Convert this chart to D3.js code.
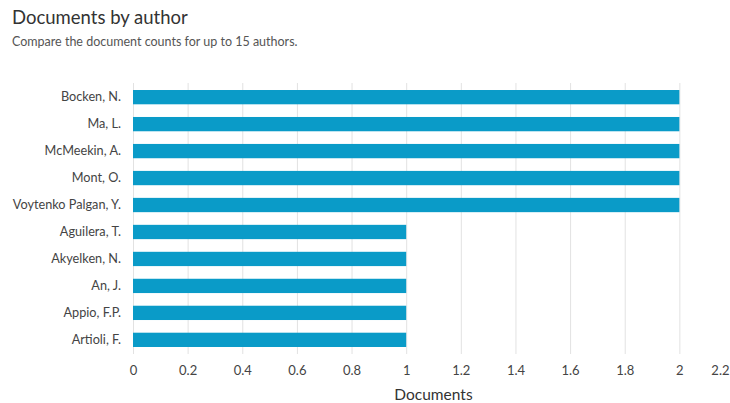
<!DOCTYPE html>
<html>
<head>
<meta charset="utf-8">
<script src="https://cdn.jsdelivr.net/npm/d3@7"></script>
<style>
  body { margin: 0; background: #fff; font-family: Lato, "Open Sans", sans-serif; }
  .chart { width: 730px; height: 403px; overflow: hidden; }
</style>
</head>
<body>
<div class="chart"></div>
<script>
const authors = ["Bocken, N.", "Ma, L.", "McMeekin, A.", "Mont, O.", "Voytenko Palgan, Y.",
  "Aguilera, T.", "Akyelken, N.", "An, J.", "Appio, F.P.", "Artioli, F."];
const documents = [2, 2, 2, 2, 2, 1, 1, 1, 1, 1];
const tickValues = [0, 0.2, 0.4, 0.6, 0.8, 1, 1.2, 1.4, 1.6, 1.8, 2, 2.2];

const width = 730, height = 403,
    margin = ({ top: 83, right: -4, bottom: 49, left: 133 })

const data = authors.map((a, i) => ({ author: a, value: documents[i] }));

const svg = d3.select(".chart").append("svg")
    .attr("width", width)
    .attr("height", height);

x = d3.scaleLinear()
    .domain([0, 2.2])
    .range([margin.left, width - margin.right])

y = d3.scaleBand()
    .domain(authors)
    .range([margin.top, height - margin.bottom])
    .paddingInner(0.47)
    .paddingOuter(0.26)

// title
svg.append("text")
    .attr("x", 12)
    .attr("y", 24)
    .style("font-size", "18.5px")
    .attr("fill", "#333")
    .text("Documents by author");

svg.append("text")
    .attr("x", 12)
    .attr("y", 46)
    .style("font-size", "12.5px")
    .attr("fill", "#555")
    .text("Compare the document counts for up to 15 authors.");

// grid
svg.append("g")
    .selectAll("line")
    .data(tickValues)
    .join("line")
    .attr("x1", d => x(d) + 0.5)
    .attr("x2", d => x(d) + 0.5)
    .attr("y1", margin.top)
    .attr("y2", height - margin.bottom)
    .attr("stroke", "#e2e2e2")
    .attr("stroke-width", 1);

// bars
svg.append("g")
    .selectAll("rect")
    .data(data)
    .join("rect")
    .attr("x", x(0))
    .attr("y", d => y(d.author))
    .attr("width", d => x(d.value) - x(0))
    .attr("height", y.bandwidth())
    .attr("fill", "#0a9bc8");

// x axis
xAxis = g => g
    .attr("transform", `translate(0,${height - margin.bottom})`)
    .call(d3.axisBottom(x)
        .tickValues(tickValues)
        .tickFormat(d3.format("~g"))
        .tickSize(0)
        .tickPadding(12))
    .call(g => g.select(".domain").remove())
    .call(g => g.selectAll("text")
        .style("font-size", "13px")
        .style("font-family", "Lato, 'Open Sans', sans-serif")
        .attr("fill", "#444"))
    // last label sits at the window edge; keep it inside
    .call(g => g.selectAll(".tick text")
        .filter(d => d === 2.2)
        .attr("text-anchor", "end")
        .attr("x", width - 1 - x(2.2)))

svg.append("g").call(xAxis);

// y axis
yAxis = g => g
    .attr("transform", `translate(${margin.left},0)`)
    .call(d3.axisLeft(y).tickSize(0).tickPadding(12))
    .call(g => g.select(".domain").remove())
    .call(g => g.selectAll("text")
        .style("font-size", "12.7px")
        .style("font-family", "Lato, 'Open Sans', sans-serif")
        .attr("fill", "#444"))

svg.append("g").call(yAxis);

svg.append("text")
    .attr("x", x(1.1))
    .attr("y", 400)
    .attr("text-anchor", "middle")
    .style("font-size", "15.5px")
    .attr("fill", "#333")
    .text("Documents");
</script>
</body>
</html>
